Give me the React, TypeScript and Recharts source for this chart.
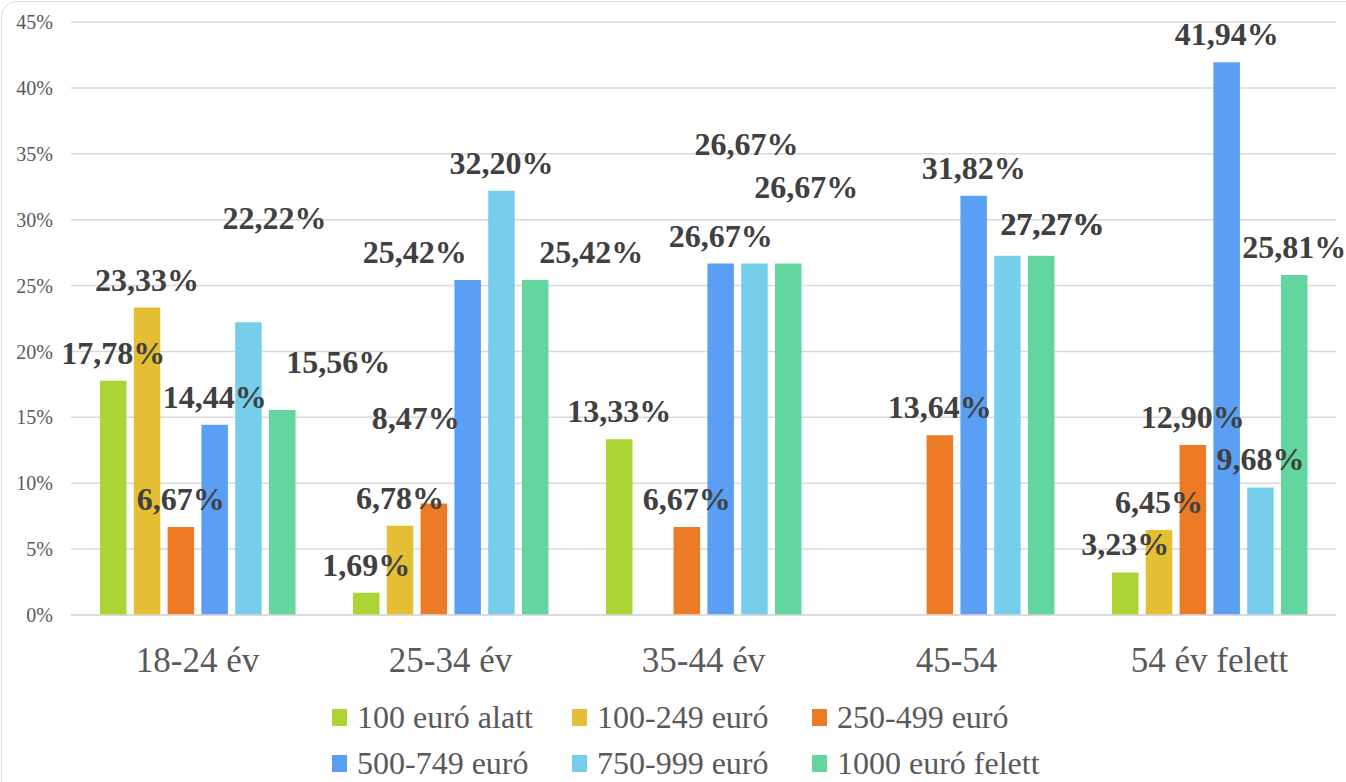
import React from 'react';
import { BarChart, Bar, XAxis, YAxis, CartesianGrid, Legend, LabelList } from 'recharts';

const ageGroups = ['18-24 év', '25-34 év', '35-44 év', '45-54', '54 év felett'];
const seriesNames = ['100 euró alatt', '100-249 euró', '250-499 euró', '500-749 euró', '750-999 euró', '1000 euró felett'];
const under100 = [17.78, 1.69, 13.33, 0, 3.23];
const from100to249 = [23.33, 6.78, 0, 0, 6.45];
const from250to499 = [6.67, 8.47, 6.67, 13.64, 12.9];
const from500to749 = [14.44, 25.42, 26.67, 31.82, 41.94];
const from750to999 = [22.22, 32.2, 26.67, 27.27, 9.68];
const over1000 = [15.56, 25.42, 26.67, 27.27, 25.81];
const yTicks = [0, 5, 10, 15, 20, 25, 30, 35, 40, 45];

const seriesValues = [under100, from100to249, from250to499, from500to749, from750to999, over1000];
const colors = ['#acd434', '#e4bf33', '#ed7b25', '#5a9ff3', '#76ceeb', '#63d59f'];

// labels that were dragged around in the original, [dx, dy] per age group
const labelShift: number[][][] = [
  [[0, 0], [0, 0], [0, 0], [0, 0], [0, 0]],
  [[0, 0], [0, 0], [0, 0], [0, 0], [0, 0]],
  [[0, 0], [-18, -57], [0, 0], [0, 0], [0, 0]],
  [[0, 0], [-53, 0], [0, 0], [0, 0], [0, 0]],
  [[26, -76], [0, 0], [-8, -92], [45, -4], [0, 0]],
  [[56, -20], [56, 0], [18, -49], [11, -4], [0, 0]],
];

const data = ageGroups.map((g, i) => {
  const row: any = { group: g };
  seriesValues.forEach((vals, s) => { row['s' + s] = vals[i]; });
  return row;
});

const serif = "'Liberation Serif', 'Times New Roman', serif";

const makeLabel = (s: number) => (props: any) => {
  const vb = props.viewBox ?? props;
  const { value, index } = props;
  if (!value) return null;
  const [dx, dy] = labelShift[s][index] ?? [0, 0];
  const cx = vb.x + vb.width / 2 + dx;
  const top = Math.min(vb.y, vb.y + vb.height);
  return (
    <text
      x={cx}
      y={top - 28 + dy}
      textAnchor="middle"
      dominantBaseline="central"
      style={{ fontFamily: serif, fontWeight: 700, fontSize: 32, fill: '#404040' }}
    >
      {Number(value).toFixed(2).replace('.', ',')}%
    </text>
  );
};

const AgeTick = ({ x, y, payload }: any) => (
  <text x={x} y={y + 57} textAnchor="middle" style={{ fontFamily: serif, fontSize: 35, fill: '#595959' }}>
    {payload.value}
  </text>
);

const LegendBox = ({ payload }: any) => {
  const items = [...(payload ?? [])].sort(
    (a: any, b: any) => seriesNames.indexOf(a.value) - seriesNames.indexOf(b.value)
  );
  return (
    <div style={{ display: 'grid', gridTemplateColumns: '240px 240px 260px' }}>
      {items.map((p: any) => (
        <div key={p.value} style={{ display: 'flex', alignItems: 'center', height: 46 }}>
          <span style={{ width: 15, height: 17, background: p.color, display: 'inline-block', marginRight: 10 }} />
          <span style={{ fontFamily: serif, fontSize: 32, lineHeight: '32px', color: '#595959', whiteSpace: 'nowrap' }}>{p.value}</span>
        </div>
      ))}
    </div>
  );
};

export default function App() {
  return (
    <div style={{ position: 'fixed', left: 0, top: 0, width: 1346, height: 782, overflow: 'hidden', background: '#fff' }}>
      <div style={{
        position: 'absolute', left: 1, top: 1, width: 1400, height: 840,
        border: '1px solid #d9d9d9', borderRadius: 16,
      }} />
      <div style={{ position: 'absolute', left: 0, top: 0 }}>
        <BarChart
          width={1346}
          height={782}
          data={data}
          margin={{ top: 22, right: 10, left: 0, bottom: 97 }}
          barSize={26.5}
          barGap={7.3}
        >
          <CartesianGrid vertical={false} stroke="#d9d9d9" strokeWidth={1.5} />
          <XAxis
            dataKey="group"
            height={70}
            axisLine={{ stroke: '#d9d9d9', strokeWidth: 1.5 }}
            tickLine={false}
            tickSize={0}
            tickMargin={0}
            tick={<AgeTick />}
            interval={0}
          />
          <YAxis
            width={71}
            domain={[0, 45]}
            ticks={yTicks}
            axisLine={false}
            tickLine={false}
            tickSize={0}
            tickMargin={18}
            tickFormatter={(v) => `${v}%`}
            tick={{ fontSize: 20, fill: '#595959', fontFamily: serif }}
          />
          <Legend
            layout="horizontal"
            verticalAlign="middle"
            align="center"
            content={<LegendBox />}
            wrapperStyle={{ top: 694, left: 332, width: 760, height: 88 }}
          />
          {seriesNames.map((name, s) => (
            <Bar key={name} dataKey={'s' + s} name={name} fill={colors[s]} isAnimationActive={false}>
              <LabelList dataKey={'s' + s} content={makeLabel(s)} />
            </Bar>
          ))}
        </BarChart>
      </div>
    </div>
  );
}
